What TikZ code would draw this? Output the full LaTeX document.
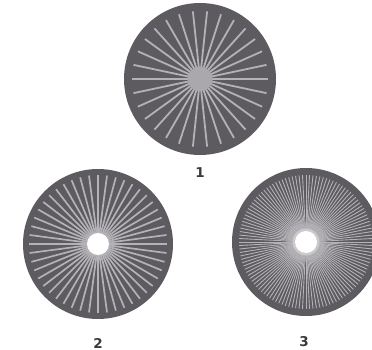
\documentclass[tikz,border=0pt]{standalone}
\usepackage{fontspec}
\setmainfont{DejaVu Sans}
\usetikzlibrary{calc}
\definecolor{diskc}{HTML}{5E5B60}
\definecolor{spokec}{HTML}{B4B2B6}
\definecolor{hubc}{HTML}{AAA8AD}
\definecolor{labc}{HTML}{3A3A3A}
\begin{document}
\begin{tikzpicture}[x=1pt,y=-1pt,
  disk/.style={fill=diskc,draw=none},
  spoke/.style={draw=spokec,line cap=butt},
  lab/.style={font=\bfseries\fontsize{13.5}{13.5}\selectfont,text=labc,inner sep=0pt}]
\useasboundingbox (0,0) rectangle (372,350);
% disk 1
\coordinate (c1) at (200,79);
\fill[disk] (c1) circle (76);
\foreach \a in {0,12,...,348}
  \draw[spoke,line width=1.8pt] ($(c1)+(\a:12)$) -- ($(c1)+(\a:68)$);
\fill[hubc] (c1) circle (12.5);
\node[lab] (l1) at (200,173) {1};
% disk 2
\coordinate (c2) at (98,244);
\fill[disk] (c2) circle (75);
\foreach \a in {0,7.5,...,352.5}
  \draw[spoke,line width=1.7pt] ($(c2)+(\a:12)$) -- ($(c2)+(\a:69)$);
\fill[spokec] (c2) circle (13);
\fill[white] (c2) circle (11);
\node[lab] (l2) at (98,343) {2};
% disk 3
\coordinate (c3) at (306,242);
\fill[disk] (c3) circle (74);
\fill[spokec!55!diskc] (c3) circle (20);
\foreach \a in {0,3,...,357}
  \draw[spoke,line width=0.9pt] ($(c3)+(\a:13)$) -- ($(c3)+(\a:67)$);
\fill[spokec!70!white] (c3) circle (13.5);
\fill[white] (c3) circle (11);
\node[lab] (l3) at (304,342) {3};
\end{tikzpicture}
\end{document}
